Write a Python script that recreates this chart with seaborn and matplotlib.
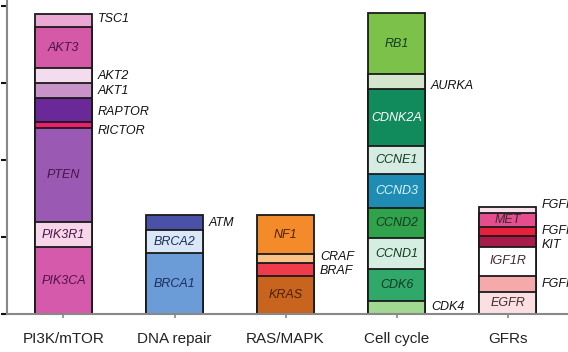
import numpy as np
import pandas as pd
import matplotlib
matplotlib.use("Agg")
import matplotlib.pyplot as plt
import seaborn as sns

categories = ["PI3K/mTOR", "DNA repair", "RAS/MAPK", "Cell cycle", "GFRs"]

# segments bottom -> top for each category
pi3k_genes = ["PIK3CA", "PIK3R1", "PTEN", "RICTOR", "RAPTOR", "AKT1", "AKT2", "AKT3", "TSC1"]
pi3k_vals = [8.7, 3.25, 12.2, 0.8, 3.1, 1.95, 1.95, 5.3, 1.7]
dna_genes = ["BRCA1", "BRCA2", "ATM"]
dna_vals = [7.9, 3.0, 1.95]
ras_genes = ["KRAS", "BRAF", "CRAF", "NF1"]
ras_vals = [4.9, 1.7, 1.15, 5.05]
cell_genes = ["CDK4", "CDK6", "CCND1", "CCND2", "CCND3", "CCNE1", "CDNK2A", "AURKA", "RB1"]
cell_vals = [1.7, 4.15, 4.0, 3.9, 4.4, 3.65, 7.4, 1.95, 7.9]
gfr_genes = ["EGFR", "FGFR2", "IGF1R", "KIT", "FGFR1", "MET", "FGFR3"]
gfr_vals = [2.85, 2.1, 3.75, 1.45, 1.15, 1.8, 0.8]

# labels drawn outside the bar (others drawn inside)
outside = {"TSC1", "AKT2", "AKT1", "RAPTOR", "RICTOR", "ATM", "CRAF", "BRAF",
           "AURKA", "CDK4", "FGFR3", "FGFR1", "KIT", "FGFR2"}

colors = {
    "PIK3CA": "#d65aac", "PIK3R1": "#f6d6e8", "PTEN": "#9a5ab4", "RICTOR": "#ec1f6e",
    "RAPTOR": "#6b2898", "AKT1": "#c893c9", "AKT2": "#f3dcee", "AKT3": "#d45aa8",
    "TSC1": "#eba8d4",
    "BRCA1": "#6c9cd8", "BRCA2": "#d9e7f6", "ATM": "#4a52a8",
    "KRAS": "#c9641e", "BRAF": "#ef3b4a", "CRAF": "#f9c287", "NF1": "#f48b2a",
    "CDK4": "#a2d992", "CDK6": "#2fa86a", "CCND1": "#d6ede2", "CCND2": "#31a24c",
    "CCND3": "#1f8db3", "CCNE1": "#d6ece2", "CDNK2A": "#128b5c", "AURKA": "#d3e6cb",
    "RB1": "#7cc24a",
    "EGFR": "#fbdfe3", "FGFR2": "#f5a9ab", "IGF1R": "#ffffff", "KIT": "#a81c4c",
    "FGFR1": "#e8203c", "MET": "#e64d8e", "FGFR3": "#f8e0ea",
}
text_colors = {"CDNK2A": "#ffffff", "CCND3": "#d8f4ff"}
cat_text = {"PI3K/mTOR": "#4a1448", "DNA repair": "#1c2c5c", "RAS/MAPK": "#4a2008",
            "Cell cycle": "#123a22", "GFRs": "#3a2a30"}
label_nudge = {"RICTOR": -0.75, "AURKA": -0.6, "TSC1": 0.2, "FGFR3": 0.6,
               "KIT": -0.5, "CRAF": 0.2, "BRAF": -0.1, "RAPTOR": -0.3}

groups = [pi3k_genes, dna_genes, ras_genes, cell_genes, gfr_genes]
values = [pi3k_vals, dna_vals, ras_vals, cell_vals, gfr_vals]

rows = []
for cat, genes, vals in zip(categories, groups, values):
    cum = np.cumsum(vals)
    for g, v, c in zip(genes, vals, cum):
        rows.append(dict(category=cat, gene=g, value=v, top=c, bottom=c - v))
df = pd.DataFrame(rows)

sns.set_theme(style="white")
plt.rcParams["font.family"] = ["Liberation Sans", "DejaVu Sans"]

fig = plt.figure(figsize=(5.68, 3.52), dpi=100)
ax = fig.add_axes([7 / 568, 38 / 352, 561 / 568, 314 / 352])

hue_order = list(df.sort_values("top", ascending=False)["gene"])
sns.barplot(data=df, x="category", y="top", hue="gene", hue_order=hue_order,
            order=categories, palette=colors, dodge=False, width=0.51,
            saturation=1, edgecolor="#1a1a1a", linewidth=1.3, legend=False,
            ax=ax, errorbar=None)

for i, cat in enumerate(categories):
    sub = df[df.category == cat]
    for _, r in sub.iterrows():
        yc = (r.top + r.bottom) / 2
        if r.gene in outside:
            ax.text(i + 0.31, yc + label_nudge.get(r.gene, 0), r.gene, ha="left",
                    va="center", fontsize=9, style="italic", color="#111111")
        else:
            ax.text(i, yc, r.gene, ha="center", va="center", fontsize=9,
                    style="italic", color=text_colors.get(r.gene, cat_text[cat]))

ax.set_xlim(-0.509, 4.545)
ax.set_ylim(0, 40.8)
ax.set_yticks([0, 10, 20, 30, 40])
ax.set_yticklabels([])
ax.set_xlabel("")
ax.set_ylabel("")
for s in ["top", "right"]:
    ax.spines[s].set_visible(False)
for s in ["left", "bottom"]:
    ax.spines[s].set_color("#888888")
    ax.spines[s].set_linewidth(1.5)
ax.tick_params(axis="y", left=True, length=4, width=1.5, color="#111111", direction="out")
ax.tick_params(axis="x", bottom=True, length=3, width=1.2, color="#888888", pad=10,
               labelsize=11, labelcolor="#222222")

fig.savefig("out.png", dpi=100)
